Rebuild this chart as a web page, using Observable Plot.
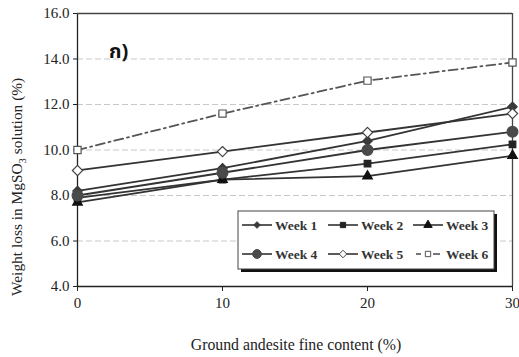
<!DOCTYPE html>
<html><head><meta charset="utf-8">
<script src="https://cdn.jsdelivr.net/npm/d3@7"></script>
<script src="https://cdn.jsdelivr.net/npm/@observablehq/plot@0.6"></script>
<style>
body{margin:0;background:#fff}
#wrap{position:relative;width:519px;height:357px;font-family:"Liberation Serif","Times New Roman",serif}
#wrap svg{position:absolute;left:0;top:0}
</style>
</head><body><div id="wrap"></div>
<script>
const xValues = [0, 10, 20, 30];
const seriesNames = ["Week 1", "Week 2", "Week 3", "Week 4", "Week 5", "Week 6"];
const week1 = [8.2, 9.2, 10.4, 11.9];
const week2 = [7.9, 8.7, 9.4, 10.25];
const week3 = [7.7, 8.7, 8.85, 9.75];
const week4 = [8.0, 9.0, 10.0, 10.8];
const week5 = [9.1, 9.93, 10.77, 11.6];
const week6 = [10.0, 11.6, 13.05, 13.85];
const yTicks = [4, 6, 8, 10, 12, 14, 16];
const xTicks = [0, 10, 20, 30];
const gridTicks = [6, 8, 10, 12, 14];

const allValues = [week1, week2, week3, week4, week5, week6];
const styles = {
  "Week 1": {symbol: "diamond2", fill: "#3a3a3a", stroke: "#3a3a3a", r: 4.2, line: "#333", dash: null},
  "Week 2": {symbol: "square2", fill: "#222", stroke: "#222", r: 4.2, line: "#333", dash: null},
  "Week 3": {symbol: "triangle2", fill: "#111", stroke: "#111", r: 4.6, line: "#333", dash: null},
  "Week 4": {symbol: "circle", fill: "#4a4a4a", stroke: "#4a4a4a", r: 5.4, line: "#333", dash: null},
  "Week 5": {symbol: "diamond2", fill: "white", stroke: "#444", r: 4.6, line: "#333", dash: null},
  "Week 6": {symbol: "square2", fill: "white", stroke: "#555", r: 4.6, line: "#555", dash: "9,4,2,4"}
};

const data = [];
seriesNames.forEach((s, i) => xValues.forEach((x, j) => data.push({series: s, x, y: allValues[i][j]})));

const marks = [
  Plot.ruleY(gridTicks, {stroke: "#c8c8c8", strokeDasharray: "6,3", strokeWidth: 1}),
  Plot.axisY(yTicks, {tickFormat: d => d.toFixed(1), tickSize: 4, tickPadding: 4, fontSize: 15, label: null, stroke: "#222"}),
  Plot.axisX(xTicks, {tickFormat: d => String(d), tickSize: 5, tickPadding: 6, fontSize: 15, label: null, stroke: "#222"}),
  Plot.ruleX([0], {stroke: "#222", strokeWidth: 1.3}),
  Plot.ruleY([4], {stroke: "#222", strokeWidth: 1.3}),
  Plot.ruleX([30], {stroke: "#444", strokeWidth: 1.3}),
  Plot.ruleY([16], {stroke: "#444", strokeWidth: 1.3})
];
seriesNames.forEach(s => {
  const st = styles[s];
  const d = data.filter(r => r.series === s);
  marks.push(Plot.line(d, {x: "x", y: "y", stroke: st.line, strokeWidth: 1.8, strokeDasharray: st.dash, curve: "linear"}));
});
seriesNames.forEach(s => {
  const st = styles[s];
  const d = data.filter(r => r.series === s);
  marks.push(Plot.dot(d, {x: "x", y: "y", symbol: () => st.symbol, fill: st.fill, stroke: st.stroke, strokeWidth: 1.2, r: st.r}));
});

const chart = Plot.plot({
  width: 519, height: 357,
  marginLeft: 77, marginRight: 7, marginTop: 13, marginBottom: 71,
  style: {fontFamily: "'Liberation Serif','Times New Roman',serif", color: "#222", background: "white"},
  x: {domain: [0, 30]},
  y: {domain: [4, 16]},
  symbol: {type: "identity"},
  marks
});
document.getElementById("wrap").appendChild(chart);

const svg = d3.select(chart);
// Y axis title with subscript
const yt = svg.append("text")
  .attr("transform", "translate(22,296) rotate(-90)")
  .attr("text-anchor", "start")
  .attr("font-size", 15.4)
  .attr("fill", "#222")
  .attr("font-family", "'Liberation Serif',serif");
yt.append("tspan").text("Weight loss in MgSO");
yt.append("tspan").attr("font-size", 10.5).attr("dy", 4).text("3");
yt.append("tspan").attr("dy", -4).text(" solution (%)");

svg.append("text")
  .attr("x", 296).attr("y", 350)
  .attr("text-anchor", "middle")
  .attr("font-size", 15.8)
  .attr("fill", "#222")
  .attr("font-family", "'Liberation Serif',serif")
  .text("Ground andesite fine content (%)");

svg.append("text")
  .attr("x", 109).attr("y", 58)
  .attr("text-anchor", "start")
  .attr("font-size", 20)
  .attr("font-weight", "bold")
  .attr("fill", "#111")
  .attr("font-family", "'Noto Sans Thai','Loma','Garuda','DejaVu Sans',sans-serif")
  .text("ก)");

// Legend
const lg = svg.append("g").attr("text-anchor", "start");
lg.append("rect").attr("x", 241).attr("y", 214).attr("width", 256).attr("height", 58).attr("fill", "#111");
lg.append("rect").attr("x", 238).attr("y", 211).attr("width", 256).attr("height", 58).attr("fill", "white").attr("stroke", "#444").attr("stroke-width", 1);
const cols = [242, 328, 413];
const rows = [225, 254];
seriesNames.forEach((s, i) => {
  const st = styles[s];
  const x0 = cols[i % 3], yc = rows[Math.floor(i / 3)];
  if (st.dash) {
    lg.append("line").attr("x1", x0 + 3).attr("x2", x0 + 8).attr("y1", yc).attr("y2", yc).attr("stroke", st.line).attr("stroke-width", 1.6);
    lg.append("line").attr("x1", x0 + 20).attr("x2", x0 + 27).attr("y1", yc).attr("y2", yc).attr("stroke", st.line).attr("stroke-width", 1.6);
  } else {
    lg.append("line").attr("x1", x0).attr("x2", x0 + 30).attr("y1", yc).attr("y2", yc)
      .attr("stroke", st.line).attr("stroke-width", 1.6);
  }
  const small = {"Week 1": 3.0, "Week 2": 3.4, "Week 3": 4.0, "Week 4": 4.4, "Week 5": 3.4, "Week 6": 3.4}[s];
  const sym = d3.symbol().type({diamond2: d3.symbolDiamond2, square2: d3.symbolSquare2, triangle2: d3.symbolTriangle2, circle: d3.symbolCircle}[st.symbol]).size(Math.PI * small * small);
  lg.append("path").attr("d", sym()).attr("transform", `translate(${x0 + 15},${yc})`)
    .attr("fill", st.fill).attr("stroke", st.stroke).attr("stroke-width", 1);
  lg.append("text").attr("x", x0 + 33).attr("y", yc + 5).attr("font-size", 13.5).attr("font-weight", "bold")
    .attr("fill", "#333").attr("font-family", "'Liberation Serif',serif").text(s);
});
</script>
</body></html>
